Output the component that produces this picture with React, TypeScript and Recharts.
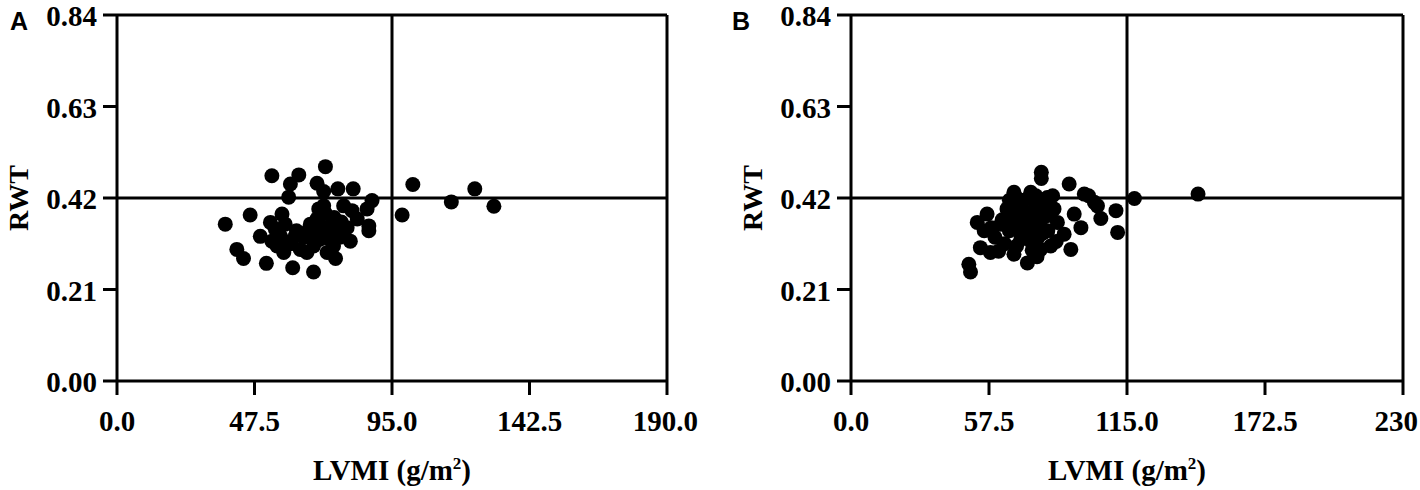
import React from "react";
import {
  ScatterChart,
  Scatter,
  XAxis,
  YAxis,
  ReferenceLine,
  Label,
} from "recharts";

// ---------- DATA ----------
const pointsA = [
  { x: 37.4, y: 0.36 }, { x: 41.4, y: 0.302 }, { x: 43.7, y: 0.281 }, { x: 46.0, y: 0.381 },
  { x: 49.5, y: 0.332 }, { x: 51.6, y: 0.27 }, { x: 53.0, y: 0.364 }, { x: 53.5, y: 0.471 },
  { x: 53.5, y: 0.321 }, { x: 54.7, y: 0.348 }, { x: 55.3, y: 0.31 }, { x: 56.4, y: 0.333 },
  { x: 57.0, y: 0.383 }, { x: 57.6, y: 0.295 }, { x: 58.1, y: 0.36 }, { x: 59.3, y: 0.422 },
  { x: 59.9, y: 0.452 }, { x: 60.7, y: 0.26 }, { x: 61.6, y: 0.333 }, { x: 62.8, y: 0.473 },
  { x: 63.3, y: 0.302 }, { x: 65.6, y: 0.295 }, { x: 66.8, y: 0.36 }, { x: 67.9, y: 0.25 },
  { x: 67.9, y: 0.31 }, { x: 69.1, y: 0.454 }, { x: 69.1, y: 0.372 }, { x: 69.7, y: 0.395 },
  { x: 70.3, y: 0.341 }, { x: 71.4, y: 0.435 }, { x: 71.4, y: 0.402 }, { x: 72.0, y: 0.492 },
  { x: 72.6, y: 0.348 }, { x: 72.6, y: 0.295 }, { x: 74.3, y: 0.36 }, { x: 74.8, y: 0.31 },
  { x: 75.5, y: 0.281 }, { x: 76.0, y: 0.341 }, { x: 76.3, y: 0.441 }, { x: 78.3, y: 0.402 },
  { x: 79.5, y: 0.352 }, { x: 80.6, y: 0.321 }, { x: 81.2, y: 0.391 }, { x: 81.6, y: 0.441 },
  { x: 83.0, y: 0.372 }, { x: 86.4, y: 0.395 }, { x: 87.0, y: 0.356 }, { x: 87.0, y: 0.345 },
  { x: 88.1, y: 0.414 }, { x: 98.5, y: 0.381 }, { x: 102.2, y: 0.451 }, { x: 115.5, y: 0.411 },
  { x: 123.6, y: 0.441 }, { x: 130.2, y: 0.401 }, { x: 64.5, y: 0.33 }, { x: 68.5, y: 0.335 },
  { x: 73.5, y: 0.325 }, { x: 77.5, y: 0.365 }, { x: 60.0, y: 0.315 }, { x: 70.0, y: 0.36 },
  { x: 66.0, y: 0.345 }, { x: 70.0, y: 0.325 }, { x: 72.0, y: 0.385 }, { x: 75.0, y: 0.375 },
  { x: 62.0, y: 0.345 }, { x: 58.0, y: 0.32 }, { x: 77.0, y: 0.33 }, { x: 73.0, y: 0.34 },
];

const pointsB = [
  { x: 49.1, y: 0.268 }, { x: 49.8, y: 0.25 }, { x: 52.6, y: 0.364 }, { x: 56.7, y: 0.383 },
  { x: 53.9, y: 0.306 }, { x: 58.1, y: 0.295 }, { x: 55.5, y: 0.345 }, { x: 60.0, y: 0.33 },
  { x: 62.5, y: 0.36 }, { x: 64.0, y: 0.315 }, { x: 61.5, y: 0.298 }, { x: 66.0, y: 0.345 },
  { x: 67.9, y: 0.291 }, { x: 67.9, y: 0.433 }, { x: 68.5, y: 0.38 }, { x: 70.7, y: 0.325 },
  { x: 70.0, y: 0.4 }, { x: 71.5, y: 0.355 }, { x: 72.0, y: 0.415 }, { x: 73.5, y: 0.271 },
  { x: 74.9, y: 0.433 }, { x: 73.0, y: 0.34 }, { x: 74.0, y: 0.385 }, { x: 75.5, y: 0.3 },
  { x: 76.0, y: 0.36 }, { x: 77.0, y: 0.405 }, { x: 78.0, y: 0.33 }, { x: 79.0, y: 0.302 },
  { x: 79.3, y: 0.479 }, { x: 79.3, y: 0.465 }, { x: 80.0, y: 0.375 }, { x: 81.8, y: 0.421 },
  { x: 82.0, y: 0.345 }, { x: 83.2, y: 0.31 }, { x: 84.6, y: 0.395 }, { x: 86.0, y: 0.364 },
  { x: 88.8, y: 0.337 }, { x: 90.9, y: 0.452 }, { x: 91.6, y: 0.302 }, { x: 93.0, y: 0.383 },
  { x: 95.8, y: 0.352 }, { x: 97.2, y: 0.429 }, { x: 99.0, y: 0.425 }, { x: 101.4, y: 0.41 },
  { x: 102.7, y: 0.402 }, { x: 104.1, y: 0.373 }, { x: 110.4, y: 0.391 }, { x: 111.1, y: 0.341 },
  { x: 118.1, y: 0.419 }, { x: 144.6, y: 0.429 }, { x: 65.0, y: 0.395 }, { x: 63.0, y: 0.37 },
  { x: 58.5, y: 0.352 }, { x: 69.0, y: 0.31 }, { x: 77.5, y: 0.285 }, { x: 85.5, y: 0.32 },
  { x: 66.0, y: 0.38 }, { x: 68.0, y: 0.36 }, { x: 70.0, y: 0.375 }, { x: 72.0, y: 0.37 },
  { x: 74.0, y: 0.35 }, { x: 76.0, y: 0.39 }, { x: 78.0, y: 0.36 }, { x: 80.0, y: 0.34 },
  { x: 82.0, y: 0.38 }, { x: 71.0, y: 0.34 }, { x: 75.0, y: 0.32 }, { x: 66.0, y: 0.415 },
  { x: 69.0, y: 0.42 }, { x: 81.0, y: 0.4 }, { x: 77.0, y: 0.425 }, { x: 84.0, y: 0.425 },
];

const yTicks = [0, 0.21, 0.42, 0.63, 0.84];
const yTickLabels = ["0.00", "0.21", "0.42", "0.63", "0.84"];

const xTicksA = [0, 47.5, 95, 142.5, 190];
const xTickLabelsA = ["0.0", "47.5", "95.0", "142.5", "190.0"];
const xTicksB = [0, 57.5, 115, 172.5, 230];
const xTickLabelsB = ["0.0", "57.5", "115.0", "172.5", "230"];

const cutoffA = { x: 95, y: 0.42 };
const cutoffB = { x: 115, y: 0.42 };

const panelLetters = ["A", "B"];
const xTitle = "LVMI (g/m";
const yTitle = "RWT";

// ---------- STYLE ----------
const SERIF = "'Liberation Serif', 'Times New Roman', serif";
const SANS = "'Liberation Sans', Arial, sans-serif";
const LINE = { stroke: "#000", strokeWidth: 3 };
const TICK_FS = 29;

const Dot = (p: any) => <circle cx={p.cx} cy={p.cy} r={7.5} fill="#000" />;

const makeYTick = () => (props: any) => {
  const { x, y, payload } = props;
  const i = yTicks.indexOf(payload.value);
  return (
    <text x={x} y={y} dy="0.38em" textAnchor="end" fontFamily={SERIF} fontWeight="bold" fontSize={TICK_FS} fill="#000">
      {i >= 0 ? yTickLabels[i] : payload.value}
    </text>
  );
};

const makeXTick = (ticks: number[], labels: string[], maxRight: number) => (props: any) => {
  const { x, y, payload } = props;
  const i = ticks.indexOf(payload.value);
  const label = i >= 0 ? labels[i] : String(payload.value);
  const halfW = (label.length * 0.47 * TICK_FS) / 2;
  const overflow = x + halfW > maxRight;
  return (
    <text
      x={overflow ? maxRight : x}
      y={y}
      dy="0.71em"
      textAnchor={overflow ? "end" : "middle"}
      fontFamily={SERIF}
      fontWeight="bold"
      fontSize={TICK_FS}
      fill="#000"
    >
      {label}
    </text>
  );
};

const renderXTitle = (props: any) => {
  const vb = props.viewBox;
  const cx = vb.x + vb.width / 2;
  return (
    <text x={cx} y={480} textAnchor="middle" fontFamily={SERIF} fontWeight="bold" fontSize={29} fill="#000">
      {xTitle}
      <tspan dy={-11} fontSize={17}>2</tspan>
      <tspan dy={11}>)</tspan>
    </text>
  );
};

const renderYTitle = (props: any) => {
  const vb = props.viewBox;
  const bx = vb.x + vb.width - 89;
  const cy = vb.y + vb.height / 2;
  return (
    <text
      x={bx}
      y={cy}
      transform={`rotate(-90, ${bx}, ${cy})`}
      textAnchor="middle"
      fontFamily={SERIF}
      fontWeight="bold"
      fontSize={28}
      fill="#000"
    >
      {yTitle}
    </text>
  );
};

type PanelProps = {
  left: number;
  width: number;
  marginRight: number;
  data: { x: number; y: number }[];
  xTicks: number[];
  xLabels: string[];
  cutoff: { x: number; y: number };
};

const Panel = ({ left, width, marginRight, data, xTicks, xLabels, cutoff }: PanelProps) => {
  const xMax = xTicks[xTicks.length - 1];
  const yMax = yTicks[yTicks.length - 1];
  return (
    <div style={{ position: "absolute", left, top: 0 }}>
      <ScatterChart width={width} height={490} margin={{ top: 15, right: marginRight, bottom: 0, left: 0 }}>
        <XAxis
          type="number"
          dataKey="x"
          domain={[0, xMax]}
          ticks={xTicks}
          allowDataOverflow
          height={109}
          tickSize={14}
          tickMargin={15}
          axisLine={LINE}
          tickLine={LINE}
          tick={makeXTick(xTicks, xLabels, width - 2)}
          interval={0}
        >
          <Label content={renderXTitle} />
        </XAxis>
        <YAxis
          type="number"
          dataKey="y"
          domain={[0, yMax]}
          ticks={yTicks}
          allowDataOverflow
          width={117}
          tickSize={14}
          tickMargin={6}
          axisLine={LINE}
          tickLine={LINE}
          tick={makeYTick()}
          interval={0}
        >
          <Label content={renderYTitle} />
        </YAxis>
        <ReferenceLine y={yMax} stroke="#000" strokeWidth={3} />
        <ReferenceLine x={xMax} stroke="#000" strokeWidth={3} />
        <ReferenceLine y={cutoff.y} stroke="#000" strokeWidth={3} />
        <ReferenceLine x={cutoff.x} stroke="#000" strokeWidth={3} />
        <Scatter data={data} fill="#000" shape={Dot} isAnimationActive={false} />
      </ScatterChart>
    </div>
  );
};

export default function App() {
  return (
    <div style={{ position: "absolute", left: 0, top: 0, width: 1420, height: 490, background: "#fff" }}>
      <Panel left={0} width={700} marginRight={33} data={pointsA} xTicks={xTicksA} xLabels={xTickLabelsA} cutoff={cutoffA} />
      <Panel left={734} width={686} marginRight={17} data={pointsB} xTicks={xTicksB} xLabels={xTickLabelsB} cutoff={cutoffB} />
      <svg width={1420} height={490} style={{ position: "absolute", left: 0, top: 0, pointerEvents: "none" }}>
        <text x={10} y={30} fontFamily={SANS} fontWeight="bold" fontSize={25} fill="#000">{panelLetters[0]}</text>
        <text x={732} y={30} fontFamily={SANS} fontWeight="bold" fontSize={25} fill="#000">{panelLetters[1]}</text>
      </svg>
    </div>
  );
}
